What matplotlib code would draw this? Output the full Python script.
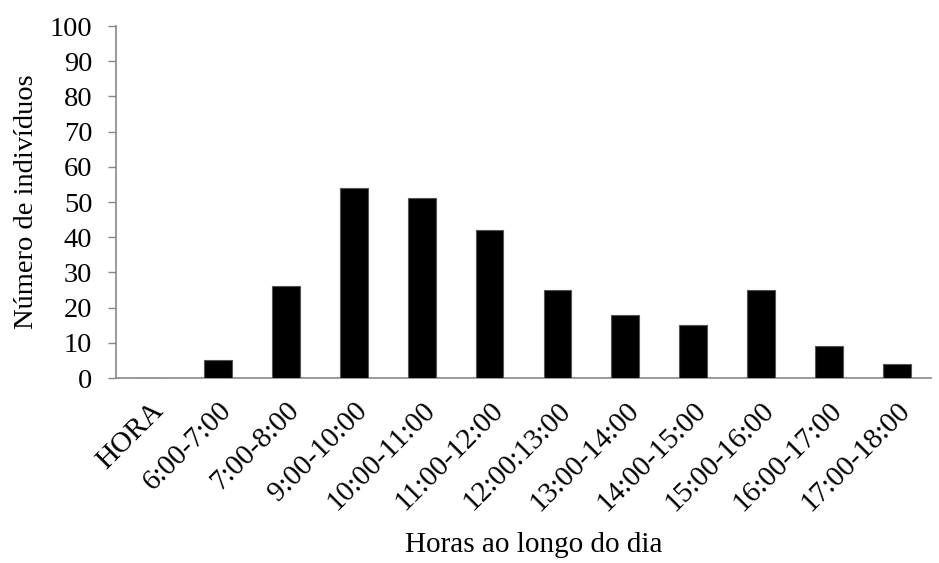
import matplotlib
matplotlib.use("Agg")
import matplotlib.pyplot as plt
import numpy as np

categories = ["HORA", "6:00-7:00", "7:00-8:00", "9:00-10:00", "10:00-11:00",
              "11:00-12:00", "12:00:13:00", "13:00-14:00", "14:00-15:00",
              "15:00-16:00", "16:00-17:00", "17:00-18:00"]
values = [0, 5, 26, 54, 51, 42, 25, 18, 15, 25, 9, 4]

plt.rcParams['font.family'] = ['Liberation Serif', 'DejaVu Serif']

fig = plt.figure(figsize=(9.39, 5.63), dpi=100)
ax = fig.add_axes([116/939, 1-378/563, (931-116)/939, (378-26)/563])

x = np.arange(len(categories))
ax.bar(x, values, width=0.41, color='black', edgecolor='#555555', linewidth=0.8, zorder=3)

ax.set_xlim(-0.5, len(categories)-0.5)
ax.set_ylim(0, 100)
ax.set_yticks(np.arange(0, 101, 10))
ax.tick_params(axis='y', labelsize=20.5, length=6, width=1, color='#888888', direction='out', pad=11)
ax.set_xticks(x)
ax.set_xticklabels(categories, rotation=45, ha='right', rotation_mode='anchor', fontsize=21)
ax.tick_params(axis='x', length=0, pad=14)

for s in ['top', 'right']:
    ax.spines[s].set_visible(False)
for s in ['left', 'bottom']:
    ax.spines[s].set_color('#888888')
    ax.spines[s].set_linewidth(1.2)

ax.set_ylabel("Número de indivíduos", fontsize=20.5, labelpad=8)
fig.text(534/939, 1-545/563, "Horas ao longo do dia", fontsize=21, ha='center', va='center')

fig.savefig("out.png", dpi=100)
